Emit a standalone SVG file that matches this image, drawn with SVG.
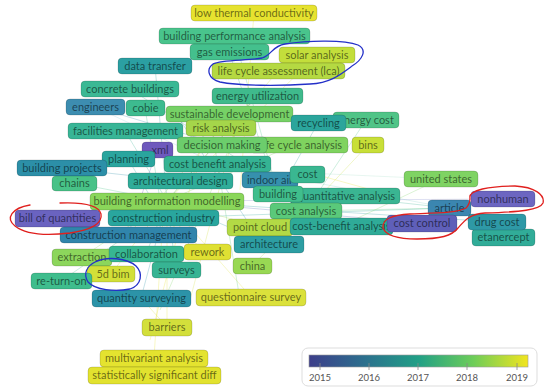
<svg xmlns="http://www.w3.org/2000/svg" width="550" height="392" viewBox="0 0 550 392">
<defs>
<style>
.node rect{stroke:#000;stroke-opacity:.18;stroke-width:.8}
.node text{font-family:Lato,"Open Sans",sans-serif;font-size:11px;fill:#000;fill-opacity:.55;text-anchor:middle}
#links line{stroke-width:.7;stroke-opacity:.4;fill:none}
.leg{font-family:Lato,"Open Sans",sans-serif;font-size:9.5px;fill:#555;text-anchor:middle}
.ann{fill:none;stroke-width:1.3;stroke-linecap:round}
</style>
<linearGradient id="vir" x1="0" x2="1" y1="0" y2="0">
<stop offset="0" stop-color="#3d3e8a"/>
<stop offset="0.25" stop-color="#2c6f8e"/>
<stop offset="0.5" stop-color="#21a086"/>
<stop offset="0.75" stop-color="#6dcd59"/>
<stop offset="1" stop-color="#f2e51f"/>
</linearGradient>
</defs>
<rect width="550" height="392" fill="#fff"/>
<g id="links">
<line x1="163" y1="218" x2="449" y2="208" stroke="#2aa59c"/>
<line x1="217" y1="164" x2="449" y2="208" stroke="#8fd3c9"/>
<line x1="340" y1="196" x2="449" y2="208" stroke="#3ab592"/>
<line x1="306" y1="211" x2="449" y2="208" stroke="#5ac97a"/>
<line x1="167" y1="201" x2="422" y2="223" stroke="#5f6fb9"/>
<line x1="167" y1="201" x2="503" y2="199" stroke="#8a8fd0"/>
<line x1="167" y1="201" x2="497" y2="222" stroke="#2e99a6"/>
<line x1="167" y1="201" x2="278" y2="71" stroke="#cfe03a"/>
<line x1="167" y1="201" x2="317" y2="55" stroke="#dfe23a"/>
<line x1="167" y1="201" x2="257" y2="96" stroke="#3fba8c"/>
<line x1="167" y1="201" x2="167" y2="327" stroke="#dfe23a"/>
<line x1="167" y1="201" x2="251" y2="297" stroke="#dfe23a"/>
<line x1="163" y1="218" x2="154" y2="358" stroke="#e6e22f"/>
<line x1="141" y1="298" x2="167" y2="201" stroke="#2c93a8"/>
<line x1="95" y1="107" x2="222" y2="145" stroke="#3d8db0"/>
<line x1="95" y1="107" x2="217" y2="164" stroke="#9bd0de"/>
<line x1="130" y1="89" x2="270" y2="180" stroke="#3bb894"/>
<line x1="125" y1="131" x2="167" y2="201" stroke="#38b596"/>
<line x1="145" y1="108" x2="163" y2="218" stroke="#3dbb8f"/>
<line x1="155" y1="66" x2="167" y2="201" stroke="#2b9fa2"/>
<line x1="229" y1="52" x2="278" y2="194" stroke="#44c08d"/>
<line x1="234" y1="36" x2="278" y2="194" stroke="#49c48c"/>
<line x1="254" y1="13" x2="240" y2="190" stroke="#e6e22f"/>
<line x1="293" y1="145" x2="167" y2="201" stroke="#7fd35f"/>
<line x1="221" y1="128" x2="128" y2="235" stroke="#a5d64a"/>
<line x1="368" y1="145" x2="306" y2="211" stroke="#c8df38"/>
<line x1="366" y1="120" x2="306" y2="211" stroke="#50c487"/>
<line x1="318" y1="123" x2="278" y2="194" stroke="#2ba59c"/>
<line x1="440" y1="179" x2="341" y2="226" stroke="#7fd363"/>
<line x1="440" y1="179" x2="240" y2="170" stroke="#a8e0c8"/>
<line x1="269" y1="244" x2="167" y2="201" stroke="#2d9ea3"/>
<line x1="252" y1="266" x2="306" y2="211" stroke="#98d853"/>
<line x1="207" y1="252" x2="163" y2="218" stroke="#dfe033"/>
<line x1="176" y1="270" x2="167" y2="201" stroke="#37b493"/>
<line x1="167" y1="327" x2="141" y2="298" stroke="#d3df3b"/>
<line x1="146" y1="254" x2="167" y2="201" stroke="#37b792"/>
<line x1="111" y1="274" x2="167" y2="201" stroke="#d2e038"/>
<line x1="82" y1="257" x2="167" y2="201" stroke="#8cd65c"/>
<line x1="61" y1="281" x2="128" y2="235" stroke="#3fbd8d"/>
<line x1="62" y1="168" x2="180" y2="181" stroke="#2c8fa8"/>
<line x1="74" y1="183" x2="167" y2="201" stroke="#48c287"/>
<line x1="157" y1="150" x2="128" y2="235" stroke="#6e59bd"/>
<line x1="128" y1="159" x2="163" y2="218" stroke="#2aa59e"/>
<line x1="260" y1="227" x2="167" y2="201" stroke="#b3da45"/>
<line x1="300" y1="170" x2="372" y2="190" stroke="#e6e22f"/>
<line x1="240" y1="110" x2="190" y2="300" stroke="#cfe03a"/>
<line x1="250" y1="100" x2="160" y2="310" stroke="#7fd363"/>
<line x1="200" y1="150" x2="150" y2="340" stroke="#e6e22f"/>
<line x1="212" y1="130" x2="240" y2="300" stroke="#5ac97a"/>
<line x1="180" y1="120" x2="260" y2="240" stroke="#2c93a8"/>
</g>
<g id="n-low-thermal-conductivity" class="node"><rect x="191" y="5" width="126" height="16" rx="4" fill="#e6e22f"/><text x="254" y="17">low thermal conductivity</text></g>
<g id="n-building-performance-analysis" class="node"><rect x="159" y="28" width="151" height="16" rx="4" fill="#49c48c"/><text x="234.5" y="40">building performance analysis</text></g>
<g id="n-gas-emissions" class="node"><rect x="190" y="44" width="79" height="16" rx="4" fill="#44c08d"/><text x="229.5" y="56">gas emissions</text></g>
<g id="n-solar-analysis" class="node"><rect x="279" y="47" width="76" height="16" rx="4" fill="#c3de3b"/><text x="317" y="59">solar analysis</text></g>
<g id="n-life-cycle-assessment" class="node"><rect x="212" y="63" width="133" height="16" rx="4" fill="#b5d942"/><text x="278.5" y="75">life cycle assessment (lca)</text></g>
<g id="n-data-transfer" class="node"><rect x="118" y="58" width="74" height="16" rx="4" fill="#2b9fa2"/><text x="155" y="70">data transfer</text></g>
<g id="n-energy-utilization" class="node"><rect x="212" y="88" width="91" height="16" rx="4" fill="#3fba8c"/><text x="257.5" y="100">energy utilization</text></g>
<g id="n-concrete-buildings" class="node"><rect x="81" y="81" width="98" height="16" rx="4" fill="#3bb894"/><text x="130" y="93">concrete buildings</text></g>
<g id="n-engineers" class="node"><rect x="66" y="99" width="59" height="16" rx="4" fill="#3d8db0"/><text x="95.5" y="111">engineers</text></g>
<g id="n-cobie" class="node"><rect x="126" y="100" width="39" height="16" rx="4" fill="#3dbb8f"/><text x="145.5" y="112">cobie</text></g>
<g id="n-sustainable-development" class="node"><rect x="166" y="106" width="127" height="16" rx="4" fill="#76d166"/><text x="229.5" y="118">sustainable development</text></g>
<g id="n-energy-cost" class="node"><rect x="333" y="112" width="66" height="16" rx="4" fill="#50c487"/><text x="366" y="124">energy cost</text></g>
<g id="n-recycling" class="node"><rect x="291" y="115" width="55" height="16" rx="4" fill="#2ba59c"/><text x="318.5" y="127">recycling</text></g>
<g id="n-facilities-management" class="node"><rect x="68" y="123" width="115" height="16" rx="4" fill="#38b596"/><text x="125.5" y="135">facilities management</text></g>
<g id="n-risk-analysis" class="node"><rect x="186" y="120" width="70" height="16" rx="4" fill="#a5d64a"/><text x="221" y="132">risk analysis</text></g>
<g id="n-life-cycle-analysis" class="node"><rect x="250" y="137" width="98" height="16" rx="4" fill="#7fd35f"/><text x="301" y="149">life cycle analysis</text></g>
<g id="n-decision-making" class="node"><rect x="177" y="137" width="90" height="16" rx="4" fill="#6ccd6c"/><text x="222" y="149">decision making</text></g>
<g id="n-bins" class="node"><rect x="352" y="137" width="32" height="16" rx="4" fill="#c8df38"/><text x="368" y="149">bins</text></g>
<g id="n-xml" class="node"><rect x="142" y="142" width="31" height="16" rx="4" fill="#6e59bd"/><text x="160" y="154">xml</text></g>
<g id="n-planning" class="node"><rect x="102" y="151" width="53" height="16" rx="4" fill="#2aa59e"/><text x="128.5" y="163">planning</text></g>
<g id="n-building-projects" class="node"><rect x="17" y="160" width="90" height="16" rx="4" fill="#2c8fa8"/><text x="62" y="172">building projects</text></g>
<g id="n-chains" class="node"><rect x="52" y="176" width="45" height="15" rx="4" fill="#48c287"/><text x="74.5" y="187">chains</text></g>
<g id="n-cost-benefit-analysis" class="node"><rect x="164" y="156" width="107" height="16" rx="4" fill="#35b393"/><text x="217.5" y="168">cost benefit analysis</text></g>
<g id="n-architectural-design" class="node"><rect x="128" y="173" width="105" height="16" rx="4" fill="#2fac99"/><text x="180.5" y="185">architectural design</text></g>
<g id="n-indoor-air" class="node"><rect x="242" y="172" width="56" height="16" rx="4" fill="#3690ad"/><text x="270" y="184">indoor air</text></g>
<g id="n-cost" class="node"><rect x="290" y="166" width="35" height="17" rx="4" fill="#3ab791"/><text x="307.5" y="178">cost</text></g>
<g id="n-united-states" class="node"><rect x="404" y="171" width="74" height="16" rx="4" fill="#7fd363"/><text x="441" y="183">united states</text></g>
<g id="n-quantitative-analysis" class="node"><rect x="290" y="188" width="110" height="16" rx="4" fill="#3ab592"/><text x="346" y="200">quantitative analysis</text></g>
<g id="n-building" class="node"><rect x="253" y="186" width="50" height="16" rx="4" fill="#40be8c"/><text x="278" y="198">building</text></g>
<g id="n-building-information-modelling" class="node"><rect x="90" y="193" width="154" height="17" rx="4" fill="#8ad65a"/><text x="167" y="205">building information modelling</text></g>
<g id="n-cost-analysis" class="node"><rect x="270" y="203" width="72" height="16" rx="4" fill="#5ac97a"/><text x="306" y="215">cost analysis</text></g>
<g id="n-bill-of-quantities" class="node"><rect x="15" y="210" width="85" height="17" rx="4" fill="#6a63c0"/><text x="57.5" y="222">bill of quantities</text></g>
<g id="n-construction-industry" class="node"><rect x="108" y="210" width="111" height="16" rx="4" fill="#29a69e"/><text x="163.5" y="222">construction industry</text></g>
<g id="n-point-cloud" class="node"><rect x="227" y="219" width="66" height="17" rx="4" fill="#b3da45"/><text x="260" y="231">point cloud</text></g>
<g id="n-cost-benefit-analysis-2" class="node"><rect x="290" y="218" width="103" height="17" rx="4" fill="#2fab98"/><text x="341.5" y="230">cost-benefit analysis</text></g>
<g id="n-article" class="node"><rect x="428" y="200" width="43" height="16" rx="4" fill="#3b86b0"/><text x="449.5" y="212">article</text></g>
<g id="n-cost-control" class="node"><rect x="387" y="215" width="70" height="17" rx="4" fill="#5f5fb9"/><text x="422" y="227">cost control</text></g>
<g id="n-nonhuman" class="node"><rect x="471" y="191" width="64" height="16" rx="4" fill="#6c66c1"/><text x="503" y="203">nonhuman</text></g>
<g id="n-etanercept" class="node"><rect x="472" y="229" width="63" height="17" rx="4" fill="#31ac98"/><text x="503.5" y="241">etanercept</text></g>
<g id="n-drug-cost" class="node"><rect x="468" y="214" width="58" height="16" rx="4" fill="#2e99a6"/><text x="497" y="226">drug cost</text></g>
<g id="n-construction-management" class="node"><rect x="60" y="227" width="137" height="16" rx="4" fill="#3085ab"/><text x="128.5" y="239">construction management</text></g>
<g id="n-architecture" class="node"><rect x="234" y="236" width="70" height="17" rx="4" fill="#2d9ea3"/><text x="269" y="248">architecture</text></g>
<g id="n-extraction" class="node"><rect x="52" y="249" width="60" height="17" rx="4" fill="#8cd65c"/><text x="82" y="261">extraction</text></g>
<g id="n-collaboration" class="node"><rect x="109" y="246" width="75" height="16" rx="4" fill="#37b792"/><text x="146.5" y="258">collaboration</text></g>
<g id="n-rework" class="node"><rect x="184" y="244" width="47" height="16" rx="4" fill="#dfe033"/><text x="207.5" y="256">rework</text></g>
<g id="n-china" class="node"><rect x="233" y="258" width="39" height="16" rx="4" fill="#98d853"/><text x="252.5" y="270">china</text></g>
<g id="n-surveys" class="node"><rect x="152" y="262" width="49" height="16" rx="4" fill="#37b493"/><text x="176.5" y="274">surveys</text></g>
<g id="n-5d-bim" class="node"><rect x="87" y="266" width="48" height="16" rx="4" fill="#d2e038"/><text x="113" y="278">5d bim</text></g>
<g id="n-re-turn-on" class="node"><rect x="31" y="273" width="61" height="16" rx="4" fill="#3fbd8d"/><text x="61.5" y="285">re-turn-on</text></g>
<g id="n-quantity-surveying" class="node"><rect x="92" y="290" width="99" height="17" rx="4" fill="#2c93a8"/><text x="141.5" y="302">quantity surveying</text></g>
<g id="n-questionnaire-survey" class="node"><rect x="196" y="289" width="110" height="17" rx="4" fill="#dbe13b"/><text x="251" y="301">questionnaire survey</text></g>
<g id="n-barriers" class="node"><rect x="142" y="319" width="50" height="17" rx="4" fill="#d3df3b"/><text x="167" y="331">barriers</text></g>
<g id="n-multivariant-analysis" class="node"><rect x="100" y="350" width="108" height="17" rx="4" fill="#e4e32f"/><text x="154" y="362">multivariant analysis</text></g>
<g id="n-statistically-significant-diff" class="node"><rect x="88" y="367" width="133" height="17" rx="4" fill="#e2e22f"/><text x="154.5" y="379">statistically significant diff</text></g>
<g id="legend">
<rect x="302" y="348" width="235" height="38" rx="6" fill="#fff" stroke="#ddd" stroke-width="1"/>
<rect x="309" y="355" width="219" height="12" fill="url(#vir)" stroke="#999" stroke-width=".6"/>
<g stroke="#888" stroke-width=".8">
<line x1="320" y1="363" x2="320" y2="370"/>
<line x1="369" y1="363" x2="369" y2="370"/>
<line x1="418" y1="363" x2="418" y2="370"/>
<line x1="467" y1="363" x2="467" y2="370"/>
<line x1="517" y1="363" x2="517" y2="370"/>
</g>
<text class="leg" x="320" y="381">2015</text>
<text class="leg" x="369" y="381">2016</text>
<text class="leg" x="418" y="381">2017</text>
<text class="leg" x="467" y="381">2018</text>
<text class="leg" x="517" y="381">2019</text>
</g>
<g id="annotations">
<path class="ann" stroke="#2430c8" d="M213,64 C222,59 250,61 262,58 C272,55 272,46 285,44 C310,40 345,40 358,45 C368,50 362,60 352,66 C340,75 330,83 310,84 C280,86 240,86 220,82 C208,79 206,69 213,64"/>
<path class="ann" stroke="#2430c8" d="M95,262 C107,256 127,258 136,266 C143,273 142,285 130,289 C115,292 95,290 88,282 C83,274 86,266 97,261"/>
<path class="ann" stroke="#e0201e" d="M60,203 C85,202 99,206 101,214 C103,224 90,230 70,233 C45,236 25,234 15,226 C5,218 12,208 30,205"/>
<path class="ann" stroke="#e0201e" d="M470,198 C468,190 490,186 515,186 C535,187 545,195 543,203 C540,210 520,212 485,213 C470,214 465,220 458,228 C452,236 440,239 417,239 C400,239 386,236 383,228 C382,219 392,215 410,214 C435,213 458,213 466,208 C469,205 470,201 470,198"/>
</g>
</svg>
